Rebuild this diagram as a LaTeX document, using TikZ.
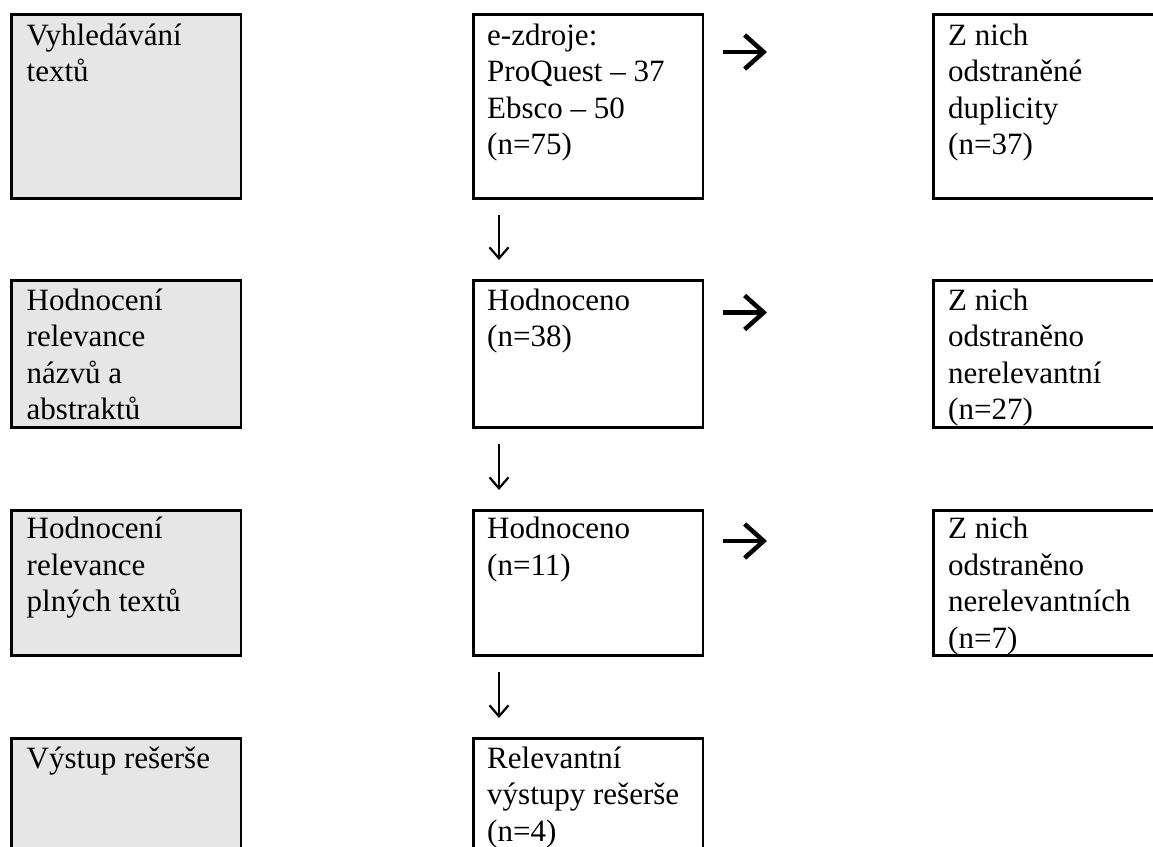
\documentclass[tikz,border=0pt]{standalone}
\usepackage{fontspec}
\setmainfont{Liberation Serif}
\usetikzlibrary{arrows.meta}
\definecolor{boxgray}{HTML}{E6E6E6}
\begin{document}
\begin{tikzpicture}[x=1pt,y=-1pt,
  box/.style={draw=black, line width=2.6pt, outer sep=0pt, inner sep=0pt, anchor=north west, minimum width=229.5pt},
  gbox/.style={box, fill=boxgray},
  txt/.style={anchor=base west, inner sep=0pt, font=\fontsize{31}{36.5}\selectfont},
  harr/.style={line width=4.5pt, -{Straight Barb[length=19pt,width=34pt]}, shorten <=20pt, shorten >=166.5pt},
  darr/.style={line width=1.4pt, -{Straight Barb[length=11pt,width=19pt,line width=2.2pt]}, shorten <=16pt, shorten >=20.5pt},
]
\useasboundingbox (0,0) rectangle (1153,846);
\clip (0,0) rectangle (1153,846);

% left column (grey)
\node[gbox, minimum height=184pt] (l1) at (11.5,14.5) {};
\node[gbox, minimum height=147pt] (l2) at (11.5,280.5) {};
\node[gbox, minimum height=145pt] (l3) at (11.5,510.5) {};
\node[gbox, minimum height=147pt] (l4) at (11.5,738.5) {};

% middle column
\node[box, minimum height=184pt] (m1) at (473.5,14.5) {};
\node[box, minimum height=147pt] (m2) at (473.5,280.5) {};
\node[box, minimum height=145pt] (m3) at (473.5,510.5) {};
\node[box, minimum height=147pt] (m4) at (473.5,738.5) {};

% right column
\node[box, minimum height=184pt] (r1) at (933.5,14.5) {};
\node[box, minimum height=147pt] (r2) at (933.5,280.5) {};
\node[box, minimum height=145pt] (r3) at (933.5,510.5) {};

% texts
\node[txt] (tl1) at ([xshift=15pt,yshift=-30.5pt]l1.north west) {\parbox[t]{205pt}{\strut Vyhledávání\\textů}};
\node[txt] (tl2) at ([xshift=15pt,yshift=-29.5pt]l2.north west) {\parbox[t]{205pt}{\strut Hodnocení\\relevance\\názvů a\\abstraktů}};
\node[txt] (tl3) at ([xshift=15pt,yshift=-28pt]l3.north west) {\parbox[t]{205pt}{\strut Hodnocení\\relevance\\plných textů}};
\node[txt] (tl4) at ([xshift=15pt,yshift=-29.5pt]l4.north west) {\parbox[t]{205pt}{\strut Výstup rešerše}};

\node[txt] (tm1) at ([xshift=13.5pt,yshift=-30.5pt]m1.north west) {\parbox[t]{210pt}{\strut e-zdroje:\\ProQuest – 37\\Ebsco – 50\\(n=75)}};
\node[txt] (tm2) at ([xshift=13.5pt,yshift=-29.5pt]m2.north west) {\parbox[t]{210pt}{\strut Hodnoceno\\(n=38)}};
\node[txt] (tm3) at ([xshift=13.5pt,yshift=-28pt]m3.north west) {\parbox[t]{210pt}{\strut Hodnoceno\\(n=11)}};
\node[txt] (tm4) at ([xshift=13.5pt,yshift=-29.5pt]m4.north west) {\parbox[t]{210pt}{\strut Relevantní\\výstupy rešerše\\(n=4)}};

\node[txt] (tr1) at ([xshift=14.5pt,yshift=-30.5pt]r1.north west) {\parbox[t]{205pt}{\strut Z nich\\odstraněné\\duplicity\\(n=37)}};
\node[txt] (tr2) at ([xshift=14.5pt,yshift=-29.5pt]r2.north west) {\parbox[t]{205pt}{\strut Z nich\\odstraněno\\nerelevantní\\(n=27)}};
\node[txt] (tr3) at ([xshift=14.5pt,yshift=-28pt]r3.north west) {\parbox[t]{205pt}{\strut Z nich\\odstraněno\\nerelevantních\\(n=7)}};

% horizontal arrows
\draw[harr] ([yshift=-37.5pt]m1.north east) -- ([yshift=-37.5pt]r1.north west);
\draw[harr] ([yshift=-32pt]m2.north east) -- ([yshift=-32pt]r2.north west);
\draw[harr] ([yshift=-30.5pt]m3.north east) -- ([yshift=-30.5pt]r3.north west);

% vertical arrows
\draw[darr] ([xshift=25.5pt]m1.south west) -- ([xshift=25.5pt]m2.north west);
\draw[darr] ([xshift=25.5pt]m2.south west) -- ([xshift=25.5pt]m3.north west);
\draw[darr] ([xshift=25.5pt]m3.south west) -- ([xshift=25.5pt]m4.north west);
\end{tikzpicture}
\end{document}
